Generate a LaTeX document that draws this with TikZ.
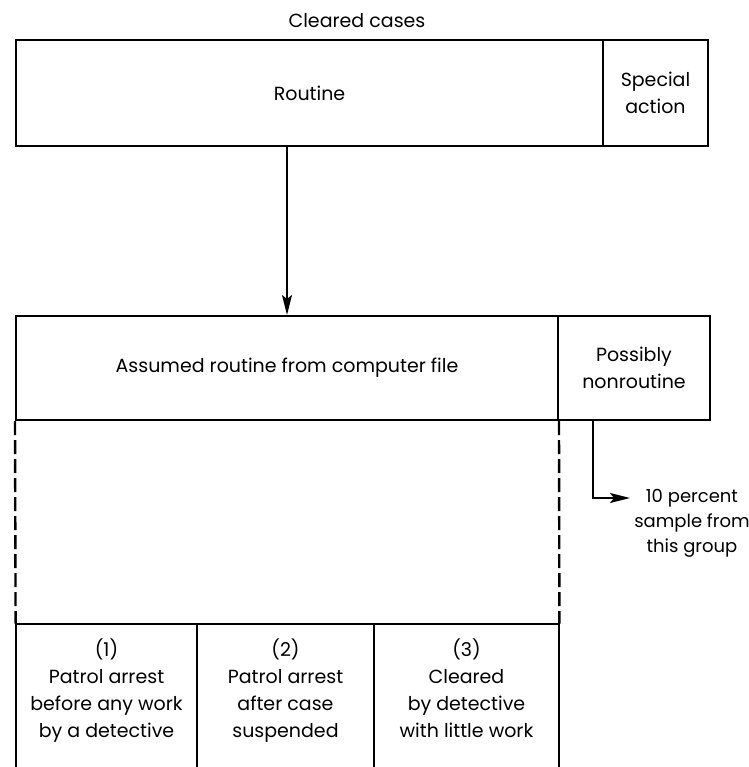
\documentclass[tikz,border=0pt]{standalone}
\usepackage{fontspec}
\setmainfont{Poppins}
\usetikzlibrary{arrows.meta,calc}
\begin{document}
\begin{tikzpicture}[x=0.5pt,y=-0.5pt,
  every node/.style={font=\fontsize{9.5pt}{13.5pt}\selectfont},
  cell/.style={draw, line width=1pt, inner sep=0pt, align=center},
  opencell/.style={inner sep=0pt, align=center},
  celltext/.style={align=center, anchor=north, inner sep=0pt},
  conn/.style={line width=1pt, -{Stealth[length=10pt,width=5pt,inset=2pt]}},
  dashline/.style={line width=1.2pt, dash pattern=on 7pt off 2.5pt}
]
\useasboundingbox (0,0) rectangle (749,767);

\node (title) at (357,21) {Cleared cases};

\node[cell, minimum width=587pt/2, minimum height=106pt/2] (routine) at (309.5,93) {Routine};
\node[cell, minimum width=105pt/2, minimum height=106pt/2] (special) at (655.5,93) {Special\\action};

\node[cell, minimum width=542pt/2, minimum height=104pt/2] (assumed) at (287,368) {Assumed routine from computer file};
\node[cell, minimum width=152pt/2, minimum height=104pt/2] (possibly) at (634,368) {Possibly\\nonroutine};

\node[opencell, minimum width=181pt/2, minimum height=143pt/2] (b1) at (106.5,695.5) {};
\node[opencell, minimum width=177pt/2, minimum height=143pt/2] (b2) at (285.5,695.5) {};
\node[opencell, minimum width=185pt/2, minimum height=143pt/2] (b3) at (466.5,695.5) {};
\node[celltext] (t1) at (106.5,638) {(1)\\Patrol arrest\\before any work\\by a detective};
\node[celltext] (t2) at (285.5,638) {(2)\\Patrol arrest\\after case\\suspended};
\node[celltext] (t3) at (466.5,638) {(3)\\Cleared\\by detective\\with little work};

\draw[line width=1pt] (b1.south west) -- (b1.north west) -- (b3.north east) -- (b3.south east);
\draw[line width=1pt] (b1.north east) -- (b1.south east);
\draw[line width=1pt] (b2.north east) -- (b2.south east);

\draw[dashline] (assumed.south west) -- (b1.north west);
\draw[dashline] (assumed.south east) -- (b3.north east);

\draw[conn] (routine.south -| assumed.north) -- (assumed.north);

\node[align=center, font=\fontsize{9pt}{12.5pt}\selectfont] (sample) at (692,523) {10 percent\\sample from\\this group};
\coordinate (p1) at (593,420);
\coordinate (tip) at (630,498);
\draw[conn] (p1) |- (tip);
\end{tikzpicture}
\end{document}
